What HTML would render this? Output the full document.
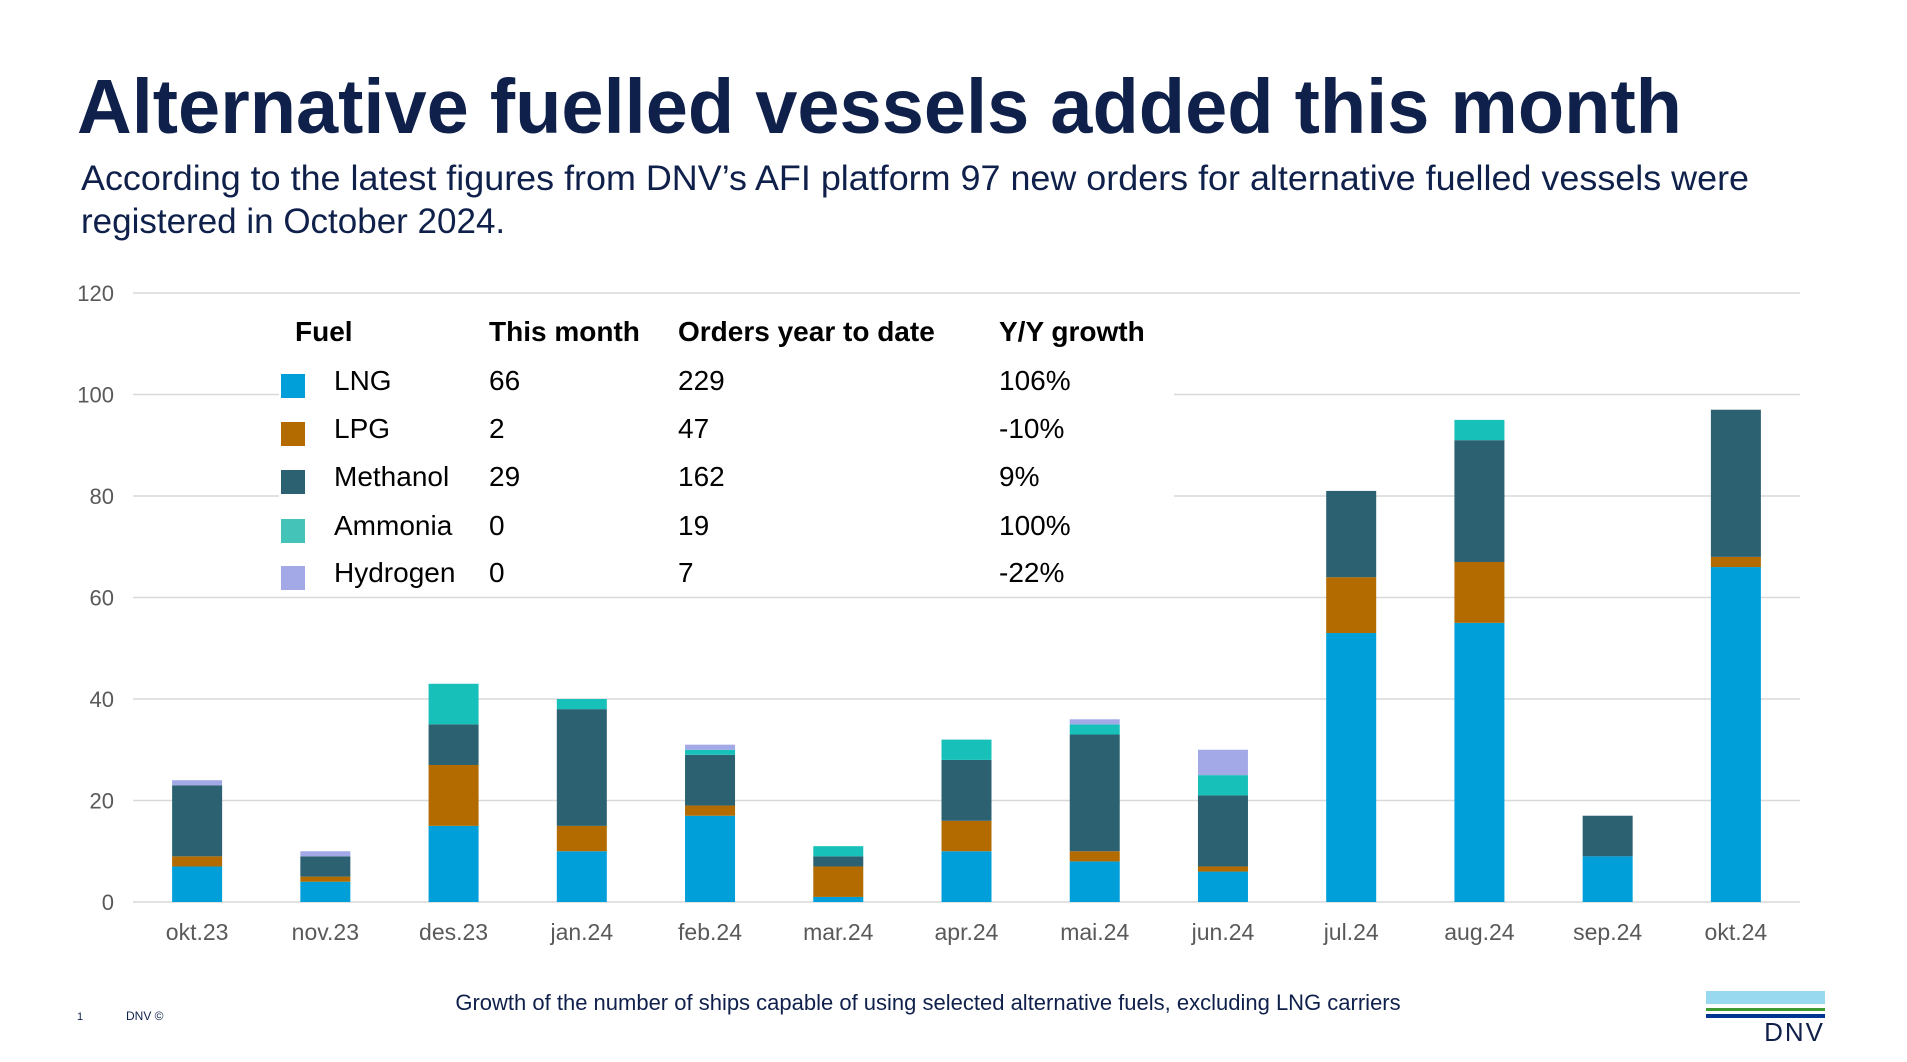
<!DOCTYPE html>
<html><head><meta charset="utf-8">
<style>
html,body{margin:0;padding:0;background:#fff;}
svg{display:block;font-family:"Liberation Sans",Arial,sans-serif;}
</style></head>
<body>
<svg id="chart" width="1907" height="1062" viewBox="0 0 1907 1062">
<text x="77" y="133" font-size="77" font-weight="bold" fill="#0f204b" textLength="1605" lengthAdjust="spacingAndGlyphs">Alternative fuelled vessels added this month</text>
<text x="81" y="190" font-size="35" fill="#0f204b" textLength="1668" lengthAdjust="spacingAndGlyphs">According to the latest figures from DNV’s AFI platform 97 new orders for alternative fuelled vessels were</text>
<text x="81" y="233" font-size="35" fill="#0f204b">registered in October 2024.</text>
<g id="grid"></g>
<g id="yticks"></g>
<g id="bars"></g>
<g id="xticks"></g>
<rect x="279" y="312" width="895" height="281" fill="#fff"/>
<g id="table" font-size="28" fill="#000"></g>
<text x="928" y="1010" font-size="22" fill="#0f204b" text-anchor="middle">Growth of the number of ships capable of using selected alternative fuels, excluding LNG carriers</text>
<text x="77" y="1020" font-size="11" fill="#0f204b">1</text>
<text x="126" y="1020" font-size="12" fill="#0f204b">DNV ©</text>
<g>
<rect x="1706" y="991" width="119" height="13" fill="#99d9f0"/>
<rect x="1706" y="1008" width="119" height="3" fill="#3f9c35"/>
<rect x="1706" y="1014" width="119" height="4" fill="#003591"/>
<text x="1825" y="1041" font-size="26" fill="#0f204b" text-anchor="end" letter-spacing="2">DNV</text>
</g>
</svg>
<script>
const categories=["okt.23","nov.23","des.23","jan.24","feb.24","mar.24","apr.24","mai.24","jun.24","jul.24","aug.24","sep.24","okt.24"];
const lng=[7,4,15,10,17,1,10,8,6,53,55,9,66];
const lpg=[2,1,12,5,2,6,6,2,1,11,12,0,2];
const methanol=[14,4,8,23,10,2,12,23,14,17,24,8,29];
const ammonia=[0,0,8,2,1,2,4,2,4,0,4,0,0];
const hydrogen=[1,1,0,0,1,0,0,1,5,0,0,0,0];
const yTicks=[0,20,40,60,80,100,120];
const seriesNames=["LNG","LPG","Methanol","Ammonia","Hydrogen"];
const tableThisMonth=["66","2","29","0","0"];
const tableYTD=["229","47","162","19","7"];
const tableGrowth=["106%","-10%","9%","100%","-22%"];

const NS="http://www.w3.org/2000/svg";
const left=133,right=1800,y0=902,yTop=293,maxV=120;
const bw=(right-left)/categories.length, barW=50;
const y=v=>y0-(v/maxV)*(y0-yTop);
const xc=i=>left+bw*(i+0.5);
const colors=["#009fda","#b36b00","#2b6171","#17c0b8","#a3a9e6"];
const legendColors=["#009fda","#b36b00","#2b6171","#44c4b8","#a3a9e6"];
const series=[lng,lpg,methanol,ammonia,hydrogen];
function mk(tag,attrs,parent){const e=document.createElementNS(NS,tag);for(const k in attrs)e.setAttribute(k,attrs[k]);parent.appendChild(e);return e;}
const grid=document.getElementById('grid'),yt=document.getElementById('yticks');
yTicks.forEach(t=>{
  const l=mk('line',{x1:left,x2:right,y1:y(t),y2:y(t),stroke:'#d9d9d9','stroke-width':1.5},grid);
  
  
  const tx=mk('text',{x:114,y:y(t)+8,'font-size':22,fill:'#595959','text-anchor':'end'},yt);
  tx.textContent=t;
  
  
});
const bars=document.getElementById('bars'),xt=document.getElementById('xticks');
categories.forEach((c,i)=>{
  let acc=0;
  series.forEach((s,k)=>{
    const v=s[i]; if(v<=0) return;
    const r=mk('rect',{x:xc(i)-barW/2,y:y(acc+v),width:barW,height:y(acc)-y(acc+v),fill:colors[k]},bars);
    
    
    acc+=v;
  });
  const t=mk('text',{x:xc(i),y:940,'font-size':23,fill:'#595959','text-anchor':'middle'},xt);
  t.textContent=c;
  
  
});
const tb=document.getElementById('table');
const hdr=[["Fuel",295],["This month",489],["Orders year to date",678],["Y/Y growth",999]];
hdr.forEach(h=>{
  const t=mk('text',{x:h[1],y:341,'font-weight':'bold'},tb);
  t.textContent=h[0];
  
  
});
const rowY=[390,438,486,535,582];
seriesNames.forEach((n,k)=>{
  const sq=mk('rect',{x:281,y:rowY[k]-16,width:24,height:24,fill:legendColors[k]},tb);
  
  
  const vals=[[n,334],[tableThisMonth[k],489],[tableYTD[k],678],[tableGrowth[k],999]];
  vals.forEach(v=>{
    const t=mk('text',{x:v[1],y:rowY[k]},tb);
    t.textContent=v[0];
    
    
  });
});
</script>
</body></html>
